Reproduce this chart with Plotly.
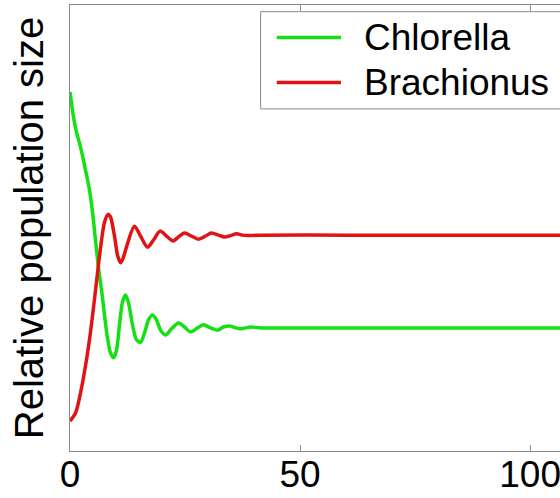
import plotly.graph_objects as go

# Time (arbitrary units) and relative population sizes
t_red = [0, 1.2, 2.28, 3.37, 4.46, 5.76, 6.63, 7.5, 8.3, 8.8, 9.67, 10.33, 11.0,
         11.63, 12.5, 14.0, 15.33, 16.85, 18.15, 19.57, 20.98, 22.4, 23.6, 24.9,
         26.4, 27.93, 29.46, 30.76, 32.28, 33.59, 34.9, 36.2, 37.5, 38.59, 41.4,
         60, 80, 110]
brachionus = [0.067, 0.085, 0.130, 0.191, 0.267, 0.379, 0.455, 0.513, 0.531, 0.525,
              0.482, 0.439, 0.422, 0.435, 0.465, 0.504, 0.482, 0.457, 0.473, 0.493,
              0.482, 0.471, 0.480, 0.489, 0.482, 0.475, 0.482, 0.489, 0.484, 0.480,
              0.483, 0.487, 0.484, 0.483, 0.484, 0.484, 0.484, 0.484]

t_green = [0, 0.76, 1.41, 2.28, 3.37, 4.24, 4.89, 5.54, 6.2, 6.85, 7.5, 8.15, 8.8,
           9.46, 10.1, 10.76, 11.41, 12.07, 12.72, 13.59, 14.46, 15.33, 16.2, 17.07,
           17.93, 18.8, 19.67, 20.76, 22.07, 23.59, 24.89, 26.2, 27.72, 29.02, 30.54,
           32.07, 33.37, 34.89, 35.98, 37.07, 38.15, 39.24, 41.41, 60, 80, 110]
chlorella = [0.805, 0.749, 0.715, 0.682, 0.630, 0.585, 0.536, 0.473, 0.410, 0.361,
             0.305, 0.253, 0.220, 0.209, 0.226, 0.283, 0.334, 0.350, 0.332, 0.283,
             0.249, 0.244, 0.265, 0.294, 0.305, 0.294, 0.271, 0.260, 0.274, 0.287,
             0.278, 0.267, 0.276, 0.283, 0.276, 0.271, 0.278, 0.280, 0.276, 0.274,
             0.276, 0.278, 0.276, 0.276, 0.276, 0.276]

x_ticks = [0, 50, 100]
series_names = ["Chlorella", "Brachionus"]
GREEN = "#14e014"
RED = "#e01414"

fig = go.Figure()
fig.add_trace(go.Scatter(x=t_green, y=chlorella, mode="lines", name=series_names[0],
                         line=dict(color=GREEN, width=3.5, shape="spline", smoothing=0.8)))
fig.add_trace(go.Scatter(x=t_red, y=brachionus, mode="lines", name=series_names[1],
                         line=dict(color=RED, width=3.5, shape="spline", smoothing=0.8)))

axis_gray = "#8a8a8a"
txt_font = "Liberation Sans, Arial, sans-serif"
fig.update_layout(
    width=560, height=498,
    margin=dict(l=70, r=0, t=5, b=47, autoexpand=False),
    paper_bgcolor="white", plot_bgcolor="white",
    showlegend=False,
    font=dict(family=txt_font, color="black"),
    xaxis=dict(range=[0, 106.5], tickvals=x_ticks, ticktext=[str(v) for v in x_ticks],
               ticks="inside", ticklen=6, tickcolor=axis_gray, tickwidth=1,
               showline=True, linecolor=axis_gray, linewidth=1, mirror="ticks",
               showgrid=False, zeroline=False, automargin=False,
               ticklabeloverflow="allow", ticklabelstandoff=-9,
               tickfont=dict(family=txt_font, size=37, color="black")),
    yaxis=dict(range=[0, 1], showticklabels=False, ticks="",
               showline=True, linecolor=axis_gray, linewidth=1, mirror=False,
               showgrid=False, zeroline=False, automargin=False,
               title=dict(text="Relative population size", standoff=13,
                          font=dict(family=txt_font, size=40, color="black"))),
)

# Legend drawn manually (long sample lines, box running off the right edge)
leg_font = dict(family=txt_font, size=37, color="black")
fig.add_shape(type="rect", xref="paper", yref="paper", x0=0.389, x1=1.1, y0=0.767, y1=0.985,
              line=dict(color=axis_gray, width=1), fillcolor="white", layer="above")
for name, col, yp in [(series_names[0], GREEN, 0.927), (series_names[1], RED, 0.826)]:
    fig.add_shape(type="line", xref="paper", yref="paper", x0=0.422, x1=0.553, y0=yp, y1=yp,
                  line=dict(color=col, width=3.5), layer="above")
    fig.add_annotation(xref="paper", yref="paper", x=0.595, y=yp, text=name, showarrow=False,
                       xanchor="left", yanchor="middle", font=leg_font)

fig.write_html("out.html")
